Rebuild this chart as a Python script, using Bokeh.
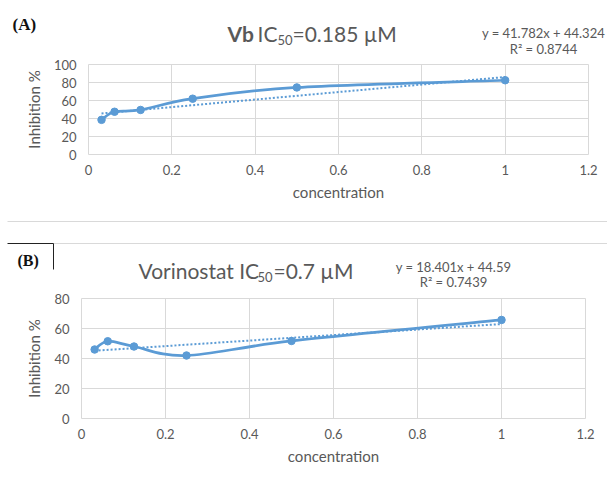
import numpy as np
from bokeh.plotting import figure
from bokeh.models import Range1d, FixedTicker, NumeralTickFormatter, Label, Arrow
from bokeh.layouts import column, row
from bokeh.embed import file_html
from bokeh.resources import INLINE

# ---------------- data ----------------
concentration = [0.03125, 0.0625, 0.125, 0.25, 0.5, 1.0]
inhibition_vb = [38.5, 47.5, 49.5, 62.0, 74.5, 82.5]
inhibition_vorinostat = [46.0, 51.5, 48.0, 42.0, 51.7, 65.7]

x_ticks = [0, 0.2, 0.4, 0.6, 0.8, 1.0, 1.2]
y_ticks_a = [0, 20, 40, 60, 80, 100]
y_ticks_b = [0, 20, 40, 60, 80]

slope_a, intercept_a, r2_a = 41.782, 44.324, "0.8744"
slope_b, intercept_b, r2_b = 18.401, 44.59, "0.7439"

BLUE = "#5B9BD5"
GRID = "#D9D9D9"
TEXT = "#595959"
FONT = "Lato"
SERIF = "Liberation Serif"
W = 607


def make_panel(xs, ys, ymax, yticks, slope, intercept,
               frame_left, frame_top, fw, fh, fig_h):
    p = figure(output_backend="svg", toolbar_location=None,
               x_range=Range1d(0, 1.2), y_range=Range1d(0, ymax),
               frame_width=fw, frame_height=fh,
               min_border_left=frame_left, min_border_top=frame_top,
               min_border_right=W - frame_left - fw,
               min_border_bottom=fig_h - frame_top - fh)
    p.outline_line_color = GRID
    p.xgrid.ticker = FixedTicker(ticks=x_ticks)
    p.ygrid.ticker = FixedTicker(ticks=yticks)
    p.xgrid.grid_line_color = GRID
    p.ygrid.grid_line_color = GRID
    for ax in (p.xaxis[0], p.yaxis[0]):
        ax.axis_line_color = None
        ax.major_tick_line_color = None
        ax.minor_tick_line_color = None
        ax.major_tick_out = 0
        ax.major_tick_in = 0
        ax.major_label_text_font = FONT
        ax.major_label_text_font_size = "13px"
        ax.major_label_text_color = TEXT
        ax.axis_label_text_font = FONT
        ax.axis_label_text_font_size = "15px"
        ax.axis_label_text_font_style = "normal"
        ax.axis_label_text_color = TEXT
    p.xaxis.ticker = FixedTicker(ticks=x_ticks)
    p.xaxis.formatter = NumeralTickFormatter(format="0.[0]")
    p.xaxis.major_label_standoff = 10
    p.xaxis.axis_label = "concentration"
    p.xaxis.axis_label_standoff = 5
    p.yaxis.ticker = FixedTicker(ticks=yticks)
    p.yaxis.major_label_standoff = 12
    p.yaxis.axis_label = "Inhibition %"
    p.yaxis.axis_label_standoff = 8

    # smoothed series line (bezier through the points, Excel-like smoothing)
    x = np.array(xs, dtype=float)
    y = np.array(ys, dtype=float)
    xp = np.concatenate([[x[0]], x, [x[-1]]])
    yp = np.concatenate([[y[0]], y, [y[-1]]])
    i = np.arange(len(x) - 1)
    cx0 = xp[i + 1] + (xp[i + 2] - xp[i]) / 6.0
    cy0 = yp[i + 1] + (yp[i + 2] - yp[i]) / 6.0
    cx1 = xp[i + 2] - (xp[i + 3] - xp[i + 1]) / 6.0
    cy1 = yp[i + 2] - (yp[i + 3] - yp[i + 1]) / 6.0
    p.bezier(x0=x[:-1], y0=y[:-1], x1=x[1:], y1=y[1:],
             cx0=cx0, cy0=cy0, cx1=cx1, cy1=cy1,
             line_color=BLUE, line_width=2.75)
    # linear trendline
    tx = np.array([x[0], x[-1]])
    p.line(tx, slope * tx + intercept, line_color=BLUE, line_width=2,
           line_dash="2 2")
    p.scatter(x, y, size=7.5, color=BLUE)
    return p


def header(top, h):
    """A strip whose frame covers the whole canvas; coords = page pixels."""
    f = figure(output_backend="svg", toolbar_location=None,
               width=W, height=h, x_range=Range1d(0, W),
               y_range=Range1d(top + h, top),
               min_border=0, min_border_left=0, min_border_right=0,
               min_border_top=0, min_border_bottom=0,
               x_axis_location=None, y_axis_location=None)
    f.grid.visible = False
    f.outline_line_color = None
    return f


def txt(f, x, y, text, size, font=FONT, style="normal", color=TEXT,
        align="left"):
    f.add_layout(Label(x=x, y=y, text=text, text_font=font,
                       text_font_size=size, text_font_style=style,
                       text_color=color, text_align=align,
                       text_baseline="middle"))


def seg(f, x0, y0, x1, y1, color):
    f.add_layout(Arrow(end=None, x_start=x0, y_start=y0, x_end=x1, y_end=y1,
                       line_color=color, line_width=1))


# ---------------- panel A ----------------
hA = header(0, 56)
txt(hA, 12, 24, "(A)", "17px", font=SERIF, style="bold", color="#111111")
txt(hA, 227, 33, "Vb", "21px", style="bold")
txt(hA, 257, 33, "IC", "21px")
txt(hA, 277, 39, "50", "13px")
txt(hA, 292, 33, "=0.185 \u00b5M", "21px")
txt(hA, 543, 32, f"y = {slope_a}x + {intercept_a}", "13px", align="center")
txt(hA, 543, 48, f"R\u00b2 = {r2_a}", "13px", align="center")

pa = make_panel(concentration, inhibition_vb, 100, y_ticks_a,
                slope_a, intercept_a,
                frame_left=88, frame_top=8, fw=500, fh=90, fig_h=160)

# ---------------- panel B ----------------
hB = header(216, 74)
seg(hB, 7, 221, W, 221, GRID)
seg(hB, 53, 243, W, 243, GRID)
seg(hB, 7, 243, 53, 243, "#222222")
seg(hB, 53, 243, 53, 269, "#222222")
txt(hB, 17, 260, "(B)", "16px", font=SERIF, style="bold", color="#111111")
txt(hB, 138, 270, "Vorinostat IC", "21px")
txt(hB, 257, 276, "50", "13px")
txt(hB, 273, 270, "=0.7 \u00b5M", "21px")
txt(hB, 453, 266, f"y = {slope_b}x + {intercept_b}", "13px", align="center")
txt(hB, 453, 281, f"R\u00b2 = {r2_b}", "13px", align="center")

pb = make_panel(concentration, inhibition_vorinostat, 80, y_ticks_b,
                slope_b, intercept_b,
                frame_left=81, frame_top=8, fw=504, fh=120, fig_h=181)

layout = column(row(hA), row(pa), row(hB), row(pb), spacing=0)
open("out.html", "w").write(file_html(layout, INLINE))
